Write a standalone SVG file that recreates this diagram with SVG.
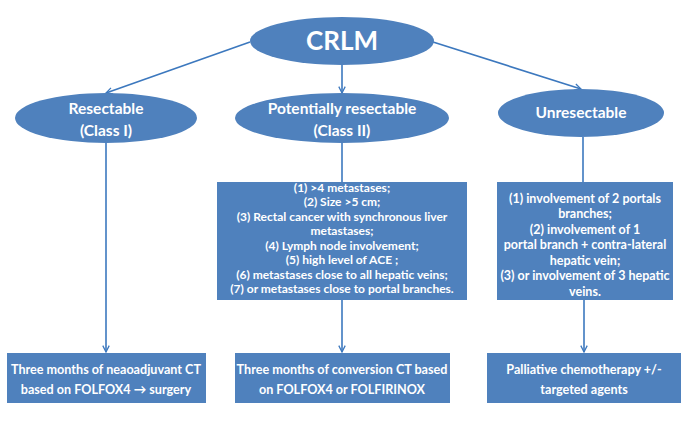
<svg xmlns="http://www.w3.org/2000/svg" width="685" height="428" viewBox="0 0 685 428">
<defs>
<marker id="arr" viewBox="0 0 10 10" refX="9" refY="5" markerWidth="8" markerHeight="8" markerUnits="userSpaceOnUse" orient="auto">
<path d="M1,1 L9,5 L1,9" fill="none" stroke="#3C78BE" stroke-width="1.6"/>
</marker>
<style>
.shape{fill:#4F81BD;}
.conn{stroke:#3C78BE;stroke-width:1.6;fill:none;}
text{font-family:Lato,"Liberation Sans",sans-serif;font-weight:700;fill:#FFFFFF;text-anchor:middle;}
.big{font-size:26px;}
.ell{font-size:15.5px;}
.sm{font-size:12px;}
.sm2{font-size:12.5px;}
.bot{font-size:12.6px;}
</style>
</defs>
<rect width="685" height="428" fill="#FFFFFF"/>
<g id="connectors">
<line class="conn" x1="250" y1="42" x2="106" y2="93" marker-end="url(#arr)"/>
<line class="conn" x1="342" y1="65" x2="342" y2="93" marker-end="url(#arr)"/>
<line class="conn" x1="433" y1="42" x2="581" y2="89" marker-end="url(#arr)"/>
<line class="conn" x1="106" y1="143" x2="106" y2="352" marker-end="url(#arr)"/>
<line class="conn" x1="342" y1="143" x2="342" y2="182"/>
<line class="conn" x1="342" y1="300" x2="342" y2="352" marker-end="url(#arr)"/>
<line class="conn" x1="583" y1="137" x2="583" y2="182"/>
<line class="conn" x1="584" y1="300" x2="584" y2="352" marker-end="url(#arr)"/>
</g>
<g id="crlm">
<ellipse class="shape" cx="342" cy="41" rx="92" ry="24"/>
<text class="big" x="342" y="50">CRLM</text>
</g>
<g id="resectable">
<ellipse class="shape" cx="106" cy="118" rx="91" ry="25"/>
<text class="ell" x="106" y="114">Resectable</text>
<text class="ell" x="106" y="136">(Class I)</text>
</g>
<g id="potentially">
<ellipse class="shape" cx="342" cy="118" rx="107" ry="25"/>
<text class="ell" x="342" y="114">Potentially resectable</text>
<text class="ell" x="342" y="136">(Class II)</text>
</g>
<g id="unresectable">
<ellipse class="shape" cx="581" cy="113" rx="83" ry="24"/>
<text class="ell" x="581" y="118">Unresectable</text>
</g>
<g id="criteria2">
<rect class="shape" x="217" y="182" width="250" height="118"/>
<text class="sm" x="342" y="191.5">(1) &gt;4 metastases;</text>
<text class="sm" x="342" y="206">(2) Size &gt;5 cm;</text>
<text class="sm" x="342" y="220.5">(3) Rectal cancer with synchronous liver</text>
<text class="sm" x="342" y="235">metastases;</text>
<text class="sm" x="342" y="249.5">(4) Lymph node involvement;</text>
<text class="sm" x="342" y="264">(5) high level of ACE ;</text>
<text class="sm" x="342" y="278.5">(6) metastases close to all hepatic veins;</text>
<text class="sm" x="342" y="293">(7) or metastases close to portal branches.</text>
</g>
<g id="criteria3">
<rect class="shape" x="497" y="182" width="176" height="118"/>
<text class="sm2" x="585" y="202.5">(1) involvement of 2 portals</text>
<text class="sm2" x="585" y="218">branches;</text>
<text class="sm2" x="585" y="233.5">(2) involvement of 1</text>
<text class="sm2" x="585" y="249">portal branch + contra-lateral</text>
<text class="sm2" x="585" y="264.5">hepatic vein;</text>
<text class="sm2" x="585" y="280">(3)  or involvement of 3 hepatic</text>
<text class="sm2" x="585" y="295.5">veins.</text>
</g>
<g id="treat1">
<rect class="shape" x="7" y="353" width="199" height="50"/>
<text class="bot" x="106" y="374">Three months of neaoadjuvant CT</text>
<text class="bot" x="106" y="394">based on FOLFOX4 → surgery</text>
</g>
<g id="treat2">
<rect class="shape" x="235" y="353" width="215" height="50"/>
<text class="bot" x="342" y="374">Three months of conversion CT based</text>
<text class="bot" x="342" y="394">on FOLFOX4 or FOLFIRINOX</text>
</g>
<g id="treat3">
<rect class="shape" x="487" y="353" width="194" height="50"/>
<text class="bot" x="584" y="374">Palliative chemotherapy +/-</text>
<text class="bot" x="584" y="394">targeted agents</text>
</g>
</svg>
